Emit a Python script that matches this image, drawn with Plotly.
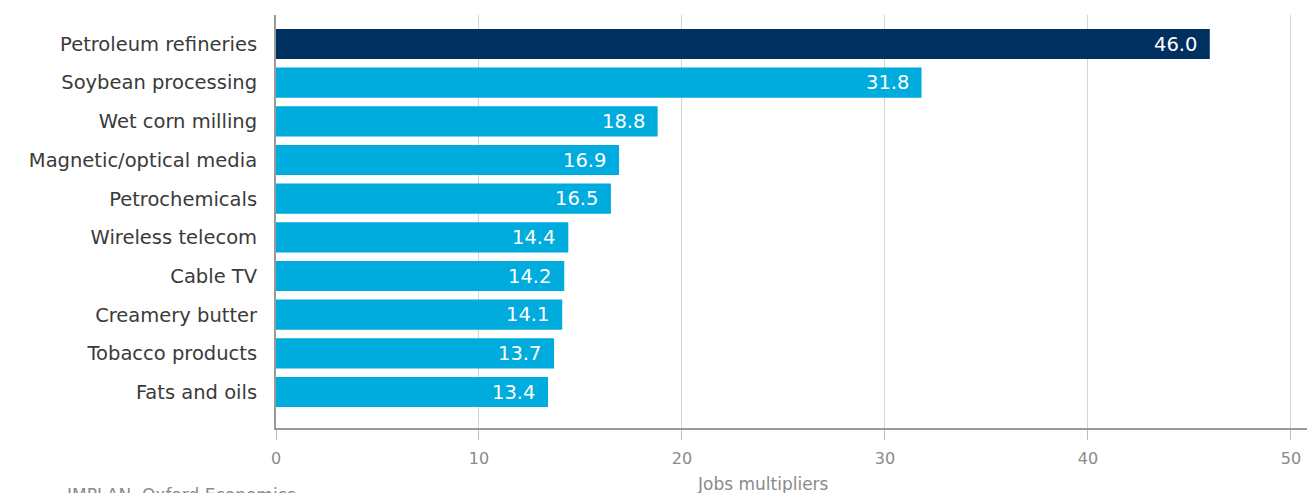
import plotly.graph_objects as go

# Jobs multipliers by industry
industries = [
    "Petroleum refineries",
    "Soybean processing",
    "Wet corn milling",
    "Magnetic/optical media",
    "Petrochemicals",
    "Wireless telecom",
    "Cable TV",
    "Creamery butter",
    "Tobacco products",
    "Fats and oils",
]
multipliers = [46.0, 31.8, 18.8, 16.9, 16.5, 14.4, 14.2, 14.1, 13.7, 13.4]
x_ticks = [0, 10, 20, 30, 40, 50]

NAVY = "#00305f"
CYAN = "#00abdd"
FONT = "DejaVu Sans"

colors = [NAVY] + [CYAN] * (len(industries) - 1)

fig = go.Figure(
    go.Bar(
        x=multipliers,
        y=industries,
        orientation="h",
        marker=dict(color=colors, line=dict(width=0)),
        width=0.78,
        hoverinfo="x+y",
    )
)

# value labels just inside the end of each bar
for name, val in zip(industries, multipliers):
    fig.add_annotation(
        x=val, y=name, xref="x", yref="y",
        text=f"{val:.1f}", showarrow=False,
        xanchor="right", xshift=-11,
        font=dict(family=FONT, size=19.5, color="white"),
    )

fig.add_annotation(
    x=0.472, y=-0.136, xref="paper", yref="paper",
    text="Jobs multipliers", showarrow=False,
    xanchor="center", yanchor="middle",
    font=dict(family=FONT, size=17, color="#8a8a8a"),
)
fig.add_annotation(
    x=-0.205, y=-0.163, xref="paper", yref="paper",
    text="IMPLAN, Oxford Economics", showarrow=False,
    xanchor="left", yanchor="middle",
    font=dict(family=FONT, size=17, color="#8a8a8a"),
)

fig.update_layout(
    width=1307, height=493,
    margin=dict(l=276, r=0, t=15, b=65),
    paper_bgcolor="white", plot_bgcolor="white",
    showlegend=False,
    font=dict(family=FONT),
    xaxis=dict(
        range=[0, 50.79],
        tickvals=x_ticks,
        ticks="outside", ticklen=10, tickcolor="#bdbdbd", tickwidth=1,
        showgrid=True, gridcolor="#d4d4d4", gridwidth=1,
        showline=True, linecolor="#9a9a9a", linewidth=2,
        zeroline=False,
        tickfont=dict(family=FONT, size=16, color="#8a8a8a"),
        ticklabelstandoff=5,
        fixedrange=True,
    ),
    yaxis=dict(
        categoryorder="array", categoryarray=industries,
        range=[9.93, -0.75],
        showline=True, linecolor="#9a9a9a", linewidth=2,
        ticks="", showgrid=False,
        tickfont=dict(family=FONT, size=19.5, color="#3a3a3a"),
        ticklabelstandoff=13,
        fixedrange=True,
    ),
)

fig.write_html("out.html")
